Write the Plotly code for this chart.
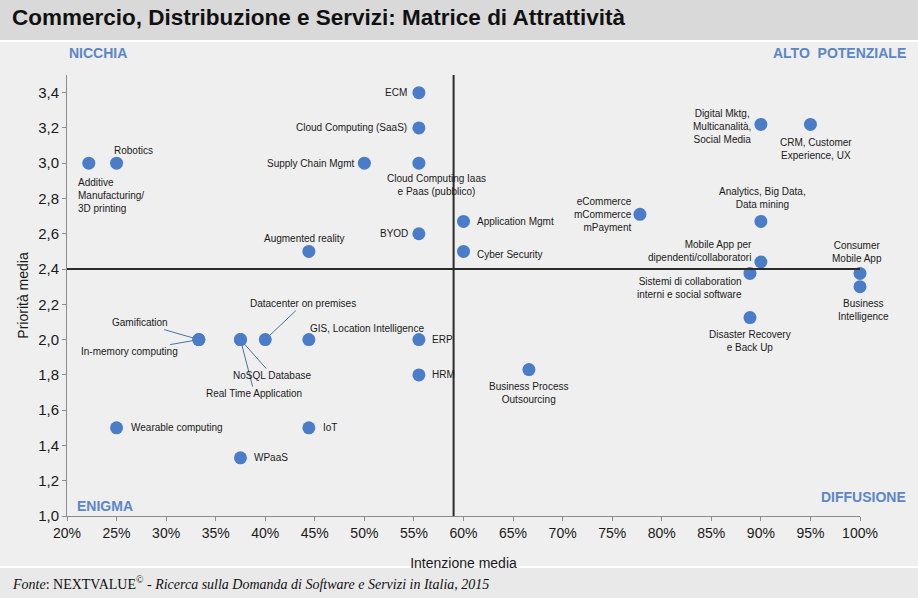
import plotly.graph_objects as go

# ---- data ----
names = [
    "Additive<br>Manufacturing/<br>3D printing", "Robotics", "ECM", "Cloud Computing (SaaS)",
    "Supply Chain Mgmt", "Cloud Computing Iaas<br>e Paas (pubblico)", "BYOD", "Augmented reality",
    "Application Mgmt", "Cyber Security", "eCommerce<br>mCommerce<br>mPayment",
    "Digital Mktg,<br>Multicanalità,<br>Social Media", "CRM, Customer<br>Experience, UX",
    "Analytics, Big Data,<br>Data mining", "Mobile App per<br>dipendenti/collaboratori",
    "Sistemi di collaboration<br>interni e social software", "Consumer<br>Mobile App",
    "Business<br>Intelligence", "Disaster Recovery<br>e Back Up", "Business Process<br>Outsourcing",
    "Gamification", "In-memory computing", "Real Time Application", "NoSQL Database",
    "Datacenter on premises", "GIS, Location Intelligence", "ERP", "HRM",
    "Wearable computing", "IoT", "WPaaS",
]
intenzione = [
    22.2, 25.0, 55.5, 55.5,
    50.0, 55.5, 55.5, 44.4,
    60.0, 60.0, 77.8,
    90.0, 95.0,
    90.0, 90.0,
    88.9, 100.0,
    100.0, 88.9, 66.6,
    33.3, 33.3, 37.5, 37.5,
    40.0, 44.4, 55.5, 55.5,
    25.0, 44.4, 37.5,
]
priorita = [
    3.00, 3.00, 3.40, 3.20,
    3.00, 3.00, 2.60, 2.50,
    2.67, 2.50, 2.71,
    3.22, 3.22,
    2.67, 2.44,
    2.375, 2.375,
    2.30, 2.125, 1.83,
    2.00, 2.00, 2.00, 2.00,
    2.00, 2.00, 2.00, 1.80,
    1.50, 1.50, 1.33,
]
x_tickvals = [20, 25, 30, 35, 40, 45, 50, 55, 60, 65, 70, 75, 80, 85, 90, 95, 100]
x_ticktext = ["20%", "25%", "30%", "35%", "40%", "45%", "50%", "55%", "60%", "65%",
              "70%", "75%", "80%", "85%", "90%", "95%", "100%"]
y_tickvals = [1.0, 1.2, 1.4, 1.6, 1.8, 2.0, 2.2, 2.4, 2.6, 2.8, 3.0, 3.2, 3.4]
y_ticktext = ["1,0", "1,2", "1,4", "1,6", "1,8", "2,0", "2,2", "2,4", "2,6", "2,8", "3,0", "3,2", "3,4"]
x_split = 59.0
y_split = 2.4

# ---- label placement (style only): xanchor, yanchor, xshift, yshift, align, arrow (ax, ay) ----
label_style = [
    ("left", "top", -13, -12, "left", None),
    ("left", "bottom", -5, 5, "left", None),
    ("right", "middle", -10, 0, "right", None),
    ("right", "middle", -10, 0, "right", None),
    ("right", "middle", -8, 0, "right", None),
    ("center", "top", 18, -8, "center", None),
    ("right", "middle", -9, 0, "right", None),
    ("center", "bottom", -4, 5, "center", None),
    ("left", "middle", 11, 0, "left", None),
    ("left", "middle", 11, -3, "left", None),
    ("right", "middle", -6, 0, "right", None),
    ("right", "middle", -8, -2, "center", None),
    ("center", "top", 6, -11, "center", None),
    ("center", "bottom", 2, 9, "center", None),
    ("right", "bottom", -7, -3, "right", None),
    ("right", "top", -6, -1, "right", None),
    ("center", "bottom", -3, 7, "center", None),
    ("center", "top", 3, -9, "center", None),
    ("center", "top", 0, -9, "center", None),
    ("center", "top", 0, -9, "center", None),
    (None, None, 0, 0, "center", (-59, -17)),
    (None, None, 0, 0, "center", (-69, 12)),
    (None, None, 0, 0, "center", (14, 54)),
    (None, None, 0, 0, "center", (32, 36)),
    (None, None, 0, 0, "center", (38, -36)),
    ("left", "bottom", -1, 4, "left", None),
    ("left", "middle", 11, 0, "left", None),
    ("left", "middle", 11, 0, "left", None),
    ("left", "middle", 12, 0, "left", None),
    ("left", "middle", 12, 0, "left", None),
    ("left", "middle", 12, 0, "left", None),
]

BLUE = "#4a7cc8"
QUAD = "#5b86c9"
BG = "#efefef"
LABEL_FONT = dict(family="Liberation Sans, Arial, sans-serif", size=10, color="#1a1a1a")

fig = go.Figure()
fig.add_trace(go.Scatter(
    x=intenzione, y=priorita, mode="markers", cliponaxis=False,
    marker=dict(size=13, color=BLUE, line=dict(width=0)),
    hovertext=names, hoverinfo="text", showlegend=False,
))

annotations = []
for name, xv, yv, st in zip(names, intenzione, priorita, label_style):
    xa, ya, xs, ys, al, arrow = st
    if arrow is None:
        annotations.append(dict(x=xv, y=yv, xref="x", yref="y", text=name, showarrow=False,
                                xanchor=xa, yanchor=ya, xshift=xs, yshift=ys, align=al,
                                font=LABEL_FONT))
    else:
        annotations.append(dict(x=xv, y=yv, xref="x", yref="y", text=name, showarrow=True,
                                ax=arrow[0], ay=arrow[1], arrowhead=0, arrowwidth=1,
                                arrowcolor="#4f6fa0", standoff=6, align=al, font=LABEL_FONT))

# quadrant labels
qfont = dict(family="Liberation Sans, Arial, sans-serif", size=14, color=QUAD)
annotations += [
    dict(text="<b>NICCHIA</b>", xref="paper", yref="paper", x=0, y=1.05, xanchor="left",
         yanchor="middle", showarrow=False, font=qfont),
    dict(text="<b>ALTO  POTENZIALE</b>", xref="paper", yref="paper", x=1.061, y=1.05,
         xanchor="right", yanchor="middle", showarrow=False, font=qfont),
    dict(text="<b>ENIGMA</b>", xref="paper", yref="paper", x=0.01, y=0.022, xanchor="left",
         yanchor="middle", showarrow=False, font=qfont),
    dict(text="<b>DIFFUSIONE</b>", xref="paper", yref="paper", x=1.061, y=0.043,
         xanchor="right", yanchor="middle", showarrow=False, font=qfont),
    dict(text="<b>Commercio, Distribuzione e Servizi: Matrice di Attrattività</b>",
         xref="paper", yref="paper", x=-0.072, y=1.13, xanchor="left", yanchor="middle",
         showarrow=False, font=dict(family="Liberation Sans, Arial, sans-serif", size=22.5, color="#111")),
    dict(text="<i>Fonte</i>: NEXTVALUE<sup>©</sup> - <i>Ricerca sulla Domanda di Software e Servizi in Italia, 2015</i>",
         xref="paper", yref="paper", x=-0.072, y=-0.152, xanchor="left", yanchor="middle",
         showarrow=False, font=dict(family="Liberation Serif, Times New Roman, serif", size=14, color="#111")),
]

shapes = [
    # title bar
    dict(type="rect", xref="paper", yref="paper", x0=-0.1, x1=1.1, y0=1.0794, y1=1.2,
         fillcolor="#d9d9d9", line=dict(width=0), layer="below"),
    dict(type="rect", xref="paper", yref="paper", x0=-0.1, x1=1.1, y0=1.0749, y1=1.0794,
         fillcolor="#ffffff", line=dict(width=0), layer="below"),
    # footer bar
    dict(type="rect", xref="paper", yref="paper", x0=-0.1, x1=1.1, y0=-0.2, y1=-0.118,
         fillcolor="#e9e9e9", line=dict(width=0), layer="below"),
    dict(type="rect", xref="paper", yref="paper", x0=-0.1, x1=1.1, y0=-0.118, y1=-0.1135,
         fillcolor="#ffffff", line=dict(width=0), layer="below"),
    # quadrant lines
    dict(type="line", xref="x", yref="y", x0=20, x1=100.2, y0=y_split, y1=y_split,
         line=dict(color="#2b2b2b", width=2)),
    dict(type="line", xref="x", yref="y", x0=x_split, x1=x_split, y0=1.0, y1=3.5,
         line=dict(color="#2b2b2b", width=2)),
]

axis_font = dict(family="Liberation Sans, Arial, sans-serif", size=14, color="#1a1a1a")
fig.update_layout(
    width=918, height=598,
    margin=dict(l=67, r=58, t=75, b=82, pad=0),
    paper_bgcolor=BG, plot_bgcolor=BG,
    showlegend=False,
    annotations=annotations,
    shapes=shapes,
    xaxis=dict(range=[20, 100], tickvals=x_tickvals, ticktext=x_ticktext, showgrid=False,
               zeroline=False, showline=True, linecolor="#8c8c8c", linewidth=1,
               ticks="outside", ticklen=4, tickcolor="#8c8c8c", tickfont=axis_font,
               title=dict(text="Intenzione media", font=axis_font, standoff=18)),
    yaxis=dict(range=[1.0, 3.5], tickvals=y_tickvals, ticktext=y_ticktext, showgrid=False,
               zeroline=False, showline=True, linecolor="#8c8c8c", linewidth=1,
               ticks="outside", ticklen=4, tickcolor="#8c8c8c",
               tickfont=dict(family="Liberation Sans, Arial, sans-serif", size=15, color="#1a1a1a"),
               title=dict(text="Priorità media", font=axis_font, standoff=6)),
)

fig.write_html("out.html", config={"displayModeBar": False},
               post_script="document.body.style.margin='0';document.body.style.background='#efefef';")
